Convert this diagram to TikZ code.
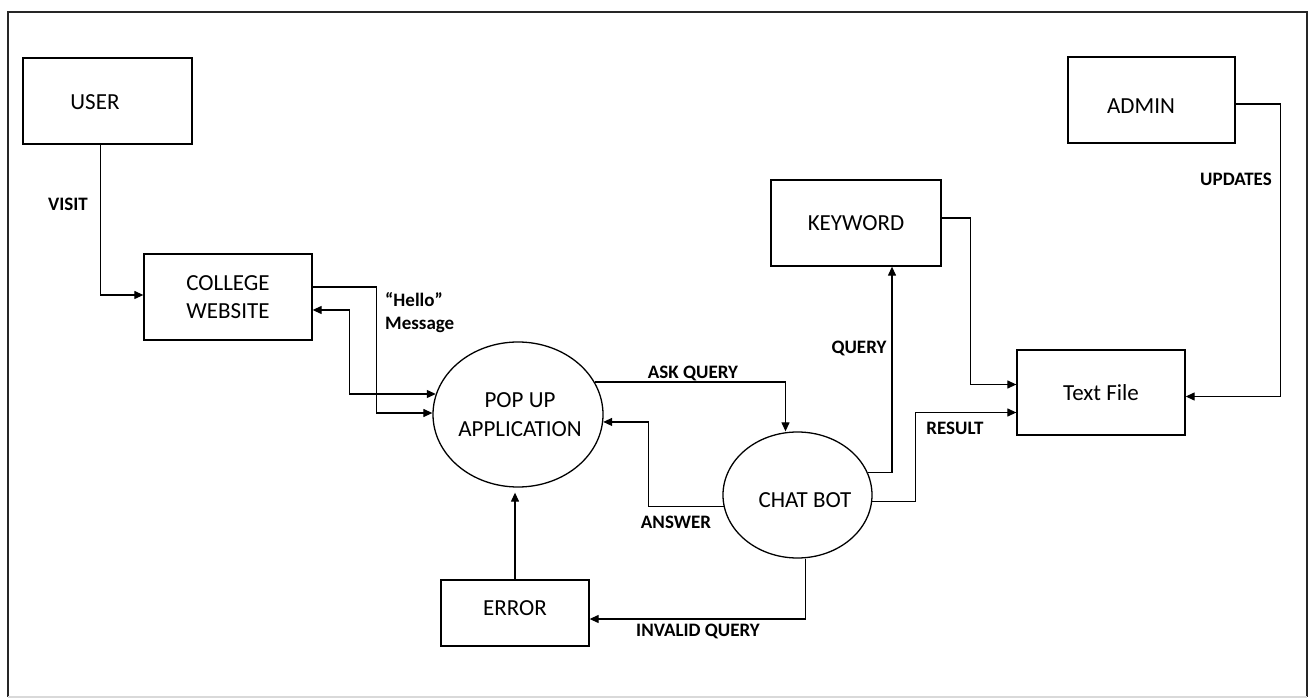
\documentclass[tikz,border=0pt]{standalone}
\usepackage{fontspec}
\setmainfont{Carlito}
\usetikzlibrary{shapes.geometric,arrows.meta}
\begin{document}
\begin{tikzpicture}[x=1pt,y=-1pt,
  box/.style={draw,line width=1.3pt,inner sep=0pt,font=\fontsize{23}{28}\selectfont,align=center},
  proc/.style={draw,ellipse,line width=1.3pt,inner sep=0pt},
  ptext/.style={font=\fontsize{23}{29}\selectfont,align=center,inner sep=0pt},
  conn/.style={line width=1.2pt,-{Triangle[length=9pt,width=8pt]}},
  lbl/.style={font=\bfseries\fontsize{19}{25}\selectfont,inner sep=0pt,align=left},
]
\useasboundingbox (0,0) rectangle (1310,700);
% frame
\draw[line width=2.4pt,black!85] (8,697) -- (8,12) -- (1307,12) -- (1307,697);
\draw[line width=2pt,black!15] (8,697) -- (1307,697);

% nodes
\node[box,minimum width=169pt,minimum height=86pt] (user) at (107.5,101) {};
\node[ptext] (usert) at (95,102) {USER};
\node[box,minimum width=168pt,minimum height=86pt] (cw) at (228,297) {COLLEGE\\WEBSITE};
\node[box,minimum width=167pt,minimum height=86pt] (adm) at (1151.5,100) {};
\node[ptext] (admt) at (1141,106) {ADMIN};
\node[box,minimum width=170pt,minimum height=86pt] (kw) at (856,223) {KEYWORD};
\node[box,minimum width=168pt,minimum height=85pt] (tf) at (1101,392.5) {Text File};
\node[box,minimum width=148pt,minimum height=66pt] (err) at (515,613) {};
\node[ptext] (errt) at (515,608) {ERROR};
\node[proc,minimum width=170pt,minimum height=145pt] (pop) at (518,414.5) {};
\node[ptext] (popt) at (520,415) {POP UP\\APPLICATION};
\node[proc,minimum width=149pt,minimum height=126pt] (cb) at (797.5,495) {};
\node[ptext] (cbt) at (805,500) {CHAT BOT};

% connectors
\draw[conn] ([xshift=-7pt]user.south) |- ([yshift=2pt]cw.west);
\draw[conn] ([yshift=10pt]cw.east) -- ++(64,0) |- (pop.179);
\draw[line width=1.2pt,{Triangle[length=9pt,width=8pt]}-{Triangle[length=9pt,width=8pt]}] ([yshift=-13pt]cw.east) -- ++(37,0) |- (pop.166);
\draw[conn] (pop.23) -| ([xshift=-12pt]cb.north);
\draw[conn] (cb.189) -- ++(-75,0) |- (pop.-5);
\draw[conn,shorten >=5pt] (err.north) -- (err.north |- pop.south);
\draw[conn] ([xshift=8pt]cb.south) |- ([yshift=-6pt]err.east);
\draw[conn] (cb.18) -| ([xshift=36pt]kw.south);
\draw[conn] (cb.-5) -- ++(43,0) |- ([yshift=-20pt]tf.west);
\draw[conn] ([yshift=5pt]kw.east) -- ++(29,0) |- ([yshift=8pt]tf.west);
\draw[conn] ([yshift=-4pt]adm.east) -- ++(45,0) |- ([yshift=-4pt]tf.east);

% labels
\node[lbl] (lvisit) at (68,204) {VISIT};
\node[lbl,anchor=west] (lhello) at (385,300) {“Hello”};
\node[lbl,anchor=west] (lmsg) at (385,325) {Message};
\node[lbl] (lask) at (693,373) {ASK QUERY};
\node[lbl] (lans) at (676,522) {ANSWER};
\node[lbl] (linv) at (698,631) {INVALID QUERY};
\node[lbl] (lquery) at (859,348) {QUERY};
\node[lbl] (lres) at (955,428) {RESULT};
\node[lbl] (lupd) at (1236,179) {UPDATES};
\end{tikzpicture}
\end{document}
